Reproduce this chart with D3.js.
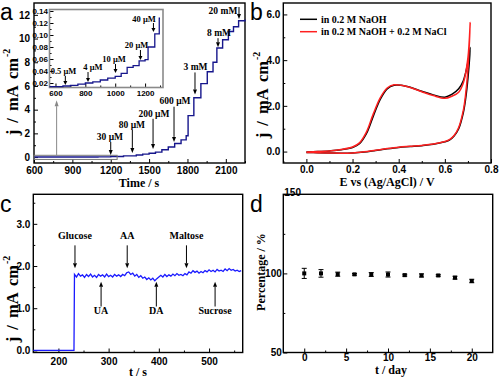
<!DOCTYPE html>
<html>
<head>
<meta charset="utf-8">
<script src="https://cdn.jsdelivr.net/npm/d3@7"></script>
<style>
  body { margin: 0; background: #fff; }
  .tick text { font-family: "Liberation Sans", Arial, sans-serif; font-weight: bold; fill: #000; }
  .serif { font-family: "Liberation Serif", "Times New Roman", serif; font-weight: bold; }
  .letter { font-family: "Liberation Sans", Arial, sans-serif; font-size: 23px; }
</style>
</head>
<body>
<svg id="fig" width="500" height="377"></svg>
<script>
// (a) amperometric response, main trace + low-concentration inset
const aTime = [600, 1100, 1200, 1300, 1400, 1450, 1500, 1550, 1600, 1650, 1700, 1750, 1790, 1805, 1850, 1905, 1955, 2000, 2030, 2075, 2120, 2160, 2200, 2250];
const aCurrent = [0.0, 0.02, 0.05, 0.1, 0.18, 0.25, 0.32, 0.42, 0.62, 0.85, 1.15, 1.45, 1.8, 3.5, 5.0, 6.2, 7.2, 8.0, 9.2, 9.9, 10.6, 11.0, 11.5, 11.6];
const aLabels = ["30 \u03bcM", "80 \u03bcM", "200 \u03bcM", "600 \u03bcM", "3 mM", "8 mM", "20 mM"];
const aArrowT = [1200, 1369, 1531, 1695, 1859, 2039, 2203];
const aArrowTip = [0.18, 0.35, 0.69, 1.28, 5.27, 9.26, 11.64];
const aArrowTail = [1.28, 2.3, 3.23, 4.25, 7.14, 10.03, 12.66];
const aLabelT = [1194, 1366, 1538, 1703, 1863, 2047, 2078];
const aLabelV = [1.45, 2.47, 3.4, 4.47, 7.35, 10.2, 12.1];

const insetTime = [560, 600, 650, 700, 750, 800, 850, 900, 950, 1000, 1040, 1080, 1120, 1160, 1200, 1220, 1265, 1295, 1300];
const insetCurrent = [0.014, 0.014, 0.015, 0.016, 0.018, 0.02, 0.022, 0.025, 0.028, 0.031, 0.036, 0.046, 0.049, 0.057, 0.059, 0.08, 0.102, 0.128, 0.128];
const insetLabels = ["0.5 \u03bcM", "4 \u03bcM", "10 \u03bcM", "20 \u03bcM", "40 \u03bcM"];
const insetArrowT = [666, 818, 1002, 1169, 1256];
const insetArrowTip = [0.0167, 0.0217, 0.0367, 0.0583, 0.105];
const insetArrowTail = [0.0317, 0.0383, 0.0517, 0.075, 0.12];
const insetLabelT = [654, 851, 992, 1143, 1193];
const insetLabelV = [0.0342, 0.0417, 0.055, 0.0783, 0.1225];

// (b) cyclic voltammograms
const cvPotential = [0, 0.05, 0.1, 0.15, 0.2, 0.23, 0.26, 0.29, 0.32, 0.35, 0.38, 0.41, 0.45, 0.5, 0.55, 0.6, 0.63, 0.66, 0.68, 0.7, 0.71,
  0.7, 0.69, 0.68, 0.66, 0.64, 0.62, 0.6, 0.55, 0.5, 0.45, 0.4, 0.35, 0.3, 0.25, 0.2, 0.15, 0.1, 0.05, 0];
const cvNaOH = [-0.02, 0.0, 0.03, 0.08, 0.18, 0.34, 0.78, 1.55, 2.28, 2.74, 2.9, 2.9, 2.81, 2.64, 2.48, 2.38, 2.5, 2.75, 3.1, 3.9, 4.55,
  3.2, 2.3, 1.7, 1.0, 0.68, 0.5, 0.43, 0.32, 0.26, 0.22, 0.18, 0.12, 0.05, -0.02, -0.06, -0.07, -0.06, -0.05, -0.04];
const cvNaCl = [-0.02, 0.0, 0.03, 0.09, 0.2, 0.38, 0.85, 1.65, 2.35, 2.78, 2.92, 2.9, 2.8, 2.62, 2.45, 2.33, 2.42, 2.6, 3.0, 4.1, 5.65,
  3.6, 2.5, 1.8, 1.05, 0.7, 0.52, 0.44, 0.33, 0.27, 0.23, 0.19, 0.13, 0.06, -0.01, -0.06, -0.07, -0.06, -0.05, -0.04];
const cvLegend = ["in 0.2 M NaOH", "in 0.2 M NaOH + 0.2 M NaCl"];

// (c) interference test, sampled every 4 s after the glucose step
const cStart = [150, 231];
const cStartCurrent = [0, 0];
const cSampleT0 = 232, cSampleStep = 4;
const cCurrent = [1.80, 1.74, 1.82, 1.76, 1.79, 1.73, 1.80, 1.75, 1.81, 1.74, 1.78, 1.73, 1.80, 1.76, 1.79, 1.74, 1.81, 1.75, 1.78, 1.74, 1.80, 1.76, 1.79, 1.75, 1.80,
  1.77, 1.84, 1.86, 1.80, 1.83, 1.76, 1.80, 1.73, 1.77, 1.71,
  1.74, 1.68, 1.72, 1.67, 1.71, 1.65, 1.70, 1.74,
  1.78, 1.74, 1.80, 1.75, 1.79, 1.76, 1.81, 1.77, 1.82, 1.78, 1.80, 1.77,
  1.82, 1.79, 1.86, 1.83, 1.89, 1.85, 1.88, 1.83, 1.87, 1.84, 1.89, 1.86,
  1.91, 1.87, 1.90, 1.86, 1.92, 1.88, 1.90, 1.87, 1.93, 1.89, 1.94, 1.90, 1.92, 1.88, 1.90, 1.87, 1.89];
const cDownLabels = ["Glucose", "AA", "Maltose"];
const cDownT = [233, 337, 455];
const cUpLabels = ["UA", "DA", "Sucrose"];
const cUpT = [285, 395, 512];

// (d) stability
const dDay = [0, 2, 4, 6, 8, 10, 12, 14, 16, 18, 20];
const dPercent = [100, 100, 99.5, 99.4, 99.3, 99.3, 98.9, 98.7, 98.7, 97.3, 95.2];
const dError = [3.2, 2.4, 1.3, 0.5, 1.2, 1.6, 0.6, 1.0, 0.5, 0.9, 1.1];

const svg = d3.select("#fig");

function axes(g, x, y, o) {
  const [y0] = y.range(), [x0] = x.range();
  const fs = o.fs || 10;
  const bottom = g.append("g").attr("transform", `translate(0,${y0})`)
    .call(d3.axisBottom(x).tickValues(o.xTicks).tickSize(-4).tickPadding(o.xPad).tickFormat(o.xFmt));
  g.append("g").attr("transform", `translate(0,${y0})`)
    .call(d3.axisBottom(x).tickValues(o.xMinor).tickSize(-2).tickFormat(""));
  const left = g.append("g").attr("transform", `translate(${x0},0)`)
    .call(d3.axisLeft(y).tickValues(o.yTicks).tickSize(-4).tickPadding(o.yPad).tickFormat(o.yFmt));
  g.append("g").attr("transform", `translate(${x0},0)`)
    .call(d3.axisLeft(y).tickValues(o.yMinor).tickSize(-2).tickFormat(""));
  g.selectAll(".domain").remove();
  g.selectAll(".tick line").attr("stroke", o.tickColor || "#000");
  g.selectAll(".tick text").attr("font-size", fs);
  g.append("rect")
    .attr("x", x0).attr("y", y.range()[1])
    .attr("width", x.range()[1] - x0).attr("height", y0 - y.range()[1])
    .attr("fill", "none").attr("stroke", o.frame || "#000").attr("stroke-width", o.frameWidth || 1.4);
  return {bottom, left};
}

function arrow(g, x, yTail, yTip, color, head) {
  const h = head || 5, dir = yTip > yTail ? 1 : -1;
  g.append("line").attr("x1", x).attr("x2", x).attr("y1", yTail).attr("y2", yTip - dir * h)
    .attr("stroke", color).attr("stroke-width", 1);
  g.append("path")
    .attr("d", `M${x},${yTip}L${x - 2},${yTip - dir * h}L${x + 2},${yTip - dir * h}Z`)
    .attr("fill", color);
}

function yTitle(g, x, yc, size) {
  const t = g.append("text").attr("class", "serif").attr("font-size", size)
    .attr("text-anchor", "middle").attr("word-spacing", 3)
    .attr("transform", `translate(${x},${yc}) rotate(-90)`);
  t.append("tspan").text("j / mA cm");
  t.append("tspan").attr("font-size", size * 0.6).attr("dx", 1).attr("dy", -size * 0.45).text("-2");
}

// ---------- panel a ----------
{
  const g = svg.append("g");
  const x = d3.scaleLinear().domain([600, 2250]).range([34, 245]);
  const y = d3.scaleLinear().domain([-0.5, 13]).range([163, 3]);
  axes(g, x, y, {
    xTicks: [600, 900, 1200, 1500, 1800, 2100], xMinor: [750, 1050, 1350, 1650, 1950, 2250], xPad: 4, xFmt: d3.format("d"),
    yTicks: [0, 2, 4, 6, 8, 10, 12], yMinor: [1, 3, 5, 7, 9, 11], yPad: 4, yFmt: d3.format("d")
  });

  g.append("path")
    .datum(aTime.map((t, i) => [t, aCurrent[i]]))
    .attr("fill", "none").attr("stroke", "#16168c").attr("stroke-width", 1.4)
    .attr("d", d3.line().x(d => x(d[0])).y(d => y(d[1])).curve(d3.curveStepAfter));

  // zoom box and connector
  g.append("rect")
    .attr("x", x(600)).attr("y", y(0.15)).attr("width", x(1250) - x(600)).attr("height", y(-0.2) - y(0.15))
    .attr("fill", "none").attr("stroke", "#777").attr("stroke-width", 1);
  arrow(g, x(777), y(0.15), y(4.8), "#888", 6);

  aLabels.forEach((lab, i) => {
    arrow(g, x(aArrowT[i]), y(aArrowTail[i]), y(aArrowTip[i]), "#000");
    g.append("text").attr("class", "serif").attr("font-size", 9.5).attr("text-anchor", "middle")
      .attr("x", x(aLabelT[i])).attr("y", y(aLabelV[i])).text(lab);
  });

  // inset
  const ix = d3.scaleLinear().domain([560, 1320]).range([49.5, 163]);
  const iy = d3.scaleLinear().domain([0.0125, 0.1425]).range([87.5, 9.5]);
  g.append("rect").attr("x", 49.5).attr("y", 9.5).attr("width", 113.5).attr("height", 78).attr("fill", "#fff");
  axes(g.append("g"), ix, iy, {
    xTicks: [600, 800, 1000, 1200], xMinor: [700, 900, 1100, 1300], xPad: 2.5, xFmt: d3.format("d"),
    yTicks: [0.02, 0.04, 0.06, 0.08, 0.10, 0.12, 0.14], yMinor: [0.03, 0.05, 0.07, 0.09, 0.11, 0.13], yPad: 1.5, yFmt: d3.format(".2f"),
    fs: 8, frame: "#8a8a8a", frameWidth: 1.6
  });
  g.append("path")
    .datum(insetTime.map((t, i) => [t, insetCurrent[i]]))
    .attr("fill", "none").attr("stroke", "#16168c").attr("stroke-width", 1.3)
    .attr("d", d3.line().x(d => ix(d[0])).y(d => iy(d[1])).curve(d3.curveStepAfter));
  insetLabels.forEach((lab, i) => {
    arrow(g, ix(insetArrowT[i]), iy(insetArrowTail[i]), iy(insetArrowTip[i]), "#000", 4);
    g.append("text").attr("class", "serif").attr("font-size", 8.5).attr("text-anchor", "middle")
      .attr("x", ix(insetLabelT[i])).attr("y", iy(insetLabelV[i])).text(lab);
  });

  g.append("text").attr("class", "serif").attr("font-size", 12).attr("text-anchor", "middle")
    .attr("x", 139).attr("y", 186.5).text("Time / s");
  yTitle(g, 17.5, 92, 16.5);
  g.append("text").attr("class", "letter").attr("x", 0).attr("y", 20).text("a");
}

// ---------- panel b ----------
{
  const g = svg.append("g");
  const x = d3.scaleLinear().domain([-0.1, 0.8]).range([283.3, 491]);
  const y = d3.scaleLinear().domain([-0.5, 6.5]).range([163, 3]);
  axes(g, x, y, {
    xTicks: [0, 0.2, 0.4, 0.6, 0.8], xMinor: [-0.1, 0.1, 0.3, 0.5, 0.7], xPad: 3, xFmt: d3.format(".1f"),
    yTicks: [0, 2, 4, 6], yMinor: [1, 3, 5], yPad: 3, yFmt: d3.format(".1f")
  });
  const line = d3.line().x(d => x(d[0])).y(d => y(d[1])).curve(d3.curveCatmullRom);
  [[cvNaOH, "#000"], [cvNaCl, "#ff2020"]].forEach(([s, c]) => {
    g.append("path").datum(cvPotential.map((e, i) => [e, s[i]]))
      .attr("fill", "none").attr("stroke", c).attr("stroke-width", 1.5).attr("d", line);
  });
  cvLegend.forEach((lab, i) => {
    g.append("line").attr("x1", 300).attr("x2", 317).attr("y1", 19.3 + i * 12.4).attr("y2", 19.3 + i * 12.4)
      .attr("stroke", i ? "#ff2020" : "#000").attr("stroke-width", 1.5);
    g.append("text").attr("class", "serif").attr("font-size", 10)
      .attr("x", 321).attr("y", 22.6 + i * 12.4).text(lab);
  });
  g.append("text").attr("class", "serif").attr("font-size", 12).attr("text-anchor", "middle")
    .attr("x", 387).attr("y", 186).text("E vs (Ag/AgCl) / V");
  yTitle(g, 267.5, 95, 16.5);
  g.append("text").attr("class", "letter").attr("x", 250).attr("y", 20).text("b");
}

// ---------- panel c ----------
{
  const g = svg.append("g");
  const x = d3.scaleLinear().domain([150, 567]).range([33.3, 242.7]);
  const y = d3.scaleLinear().domain([-0.05, 3.7]).range([352.5, 194.3]);
  axes(g, x, y, {
    xTicks: [200, 300, 400, 500], xMinor: [250, 350, 450, 550], xPad: 5, xFmt: d3.format("d"),
    yTicks: [0, 1, 2, 3], yMinor: [0.5, 1.5, 2.5, 3.5], yPad: 3, yFmt: d3.format(".1f")
  });
  const pts = cStart.map((t, i) => [t, cStartCurrent[i]])
    .concat(cCurrent.map((v, i) => [cSampleT0 + i * cSampleStep, v]));
  g.append("path").datum(pts)
    .attr("fill", "none").attr("stroke", "#1a1aff").attr("stroke-width", 1.3)
    .attr("d", d3.line().x(d => x(d[0])).y(d => y(d[1])));
  cDownLabels.forEach((lab, i) => {
    arrow(g, x(cDownT[i]), y(2.49), y(1.95), "#000");
    g.append("text").attr("class", "serif").attr("font-size", 10).attr("text-anchor", "middle")
      .attr("x", x(cDownT[i])).attr("y", y(2.63)).text(lab);
  });
  cUpLabels.forEach((lab, i) => {
    arrow(g, x(cUpT[i]), y(1.04), y(1.63), "#000");
    g.append("text").attr("class", "serif").attr("font-size", 10).attr("text-anchor", "middle")
      .attr("x", x(cUpT[i])).attr("y", y(0.86)).text(lab);
  });
  g.append("text").attr("class", "serif").attr("font-size", 12).attr("text-anchor", "middle")
    .attr("x", 138).attr("y", 375.5).text("t / s");
  yTitle(g, 17.5, 299, 16.5);
  g.append("text").attr("class", "letter").attr("x", 0).attr("y", 212).text("c");
}

// ---------- panel d ----------
{
  const g = svg.append("g");
  const x = d3.scaleLinear().domain([-2.5, 22.5]).range([283.3, 492.7]);
  const y = d3.scaleLinear().domain([50, 150]).range([352.5, 194.3]);
  const ax = axes(g, x, y, {
    xTicks: [0, 5, 10, 15, 20], xMinor: [2.5, 7.5, 12.5, 17.5], xPad: 1, xFmt: d3.format("d"),
    yTicks: [50, 100, 150], yMinor: [75, 125], yPad: 1.5, yFmt: d3.format("d")
  });
  ax.left.selectAll(".tick text").filter(d => d === 150)
    .attr("text-anchor", "start").attr("x", 1).attr("dy", "0.12em");

  const pts = dDay.map((t, i) => ({t, v: dPercent[i], e: dError[i]}));
  const eb = g.append("g").attr("stroke", "#000").attr("stroke-width", 1);
  eb.selectAll("line.v").data(pts).join("line").attr("class", "v")
    .attr("x1", d => x(d.t)).attr("x2", d => x(d.t)).attr("y1", d => y(d.v - d.e)).attr("y2", d => y(d.v + d.e));
  eb.selectAll("line.hi").data(pts).join("line").attr("class", "hi")
    .attr("x1", d => x(d.t) - 2.5).attr("x2", d => x(d.t) + 2.5).attr("y1", d => y(d.v + d.e)).attr("y2", d => y(d.v + d.e));
  eb.selectAll("line.lo").data(pts).join("line").attr("class", "lo")
    .attr("x1", d => x(d.t) - 2.5).attr("x2", d => x(d.t) + 2.5).attr("y1", d => y(d.v - d.e)).attr("y2", d => y(d.v - d.e));
  g.selectAll("rect.pt").data(pts).join("rect").attr("class", "pt")
    .attr("x", d => x(d.t) - 2).attr("y", d => y(d.v) - 2).attr("width", 4).attr("height", 4).attr("fill", "#000");

  g.append("text").attr("class", "serif").attr("font-size", 12).attr("text-anchor", "middle")
    .attr("x", 391).attr("y", 373.5).text("t / day");
  g.append("text").attr("class", "serif").attr("font-size", 12).attr("text-anchor", "middle")
    .attr("transform", "translate(265,272) rotate(-90)").text("Percentage / %");
  g.append("text").attr("class", "letter").attr("x", 250).attr("y", 212).text("d");
}
</script>
</body>
</html>
